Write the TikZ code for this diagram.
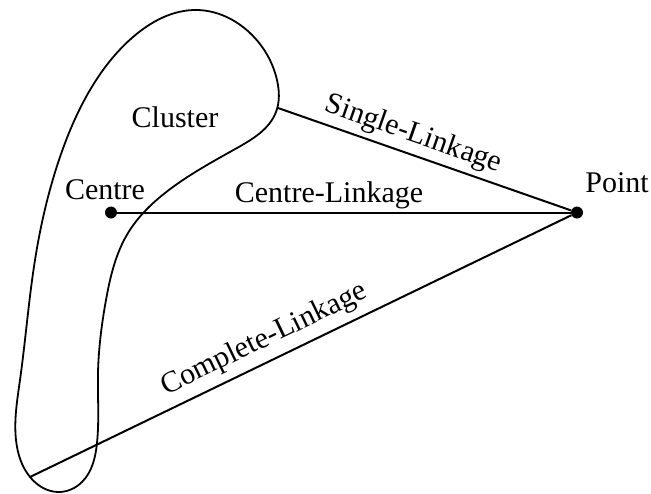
\documentclass[tikz,border=0pt]{standalone}
\usepackage{fontspec}
\setmainfont{Liberation Serif}
\usetikzlibrary{positioning,hobby}
\begin{document}
\begin{tikzpicture}[x=1pt,y=-1pt,
  lbl/.style={font=\fontsize{30}{36}\selectfont, inner sep=2pt},
  dot/.style={circle, fill=black, inner sep=0pt, minimum size=12pt},
  link/.style={line width=2pt},
  outline/.style={line width=1.8pt}]
\useasboundingbox (0,0) rectangle (651,493);

% cluster outline
\draw[outline, use Hobby shortcut, closed=true]
  (197,10) .. (250,33) .. (277,80) .. (276,112) .. (237,148) .. (165,193)
  .. (128,233) .. (106,300) .. (98,373) .. (97,443) .. (82,482) .. (58,492)
  .. (30,477) .. (16,440) .. (20,380) .. (35,260) .. (60,157) .. (90,90)
  .. (133,37);

% points
\node[dot] (centre) at (111,212.5) {};
\node[dot] (point)  at (577,212.5) {};
\coordinate (near) at (278,108);
\coordinate (far) at (30,477);

% linkages
\draw[link] (near) -- (point)
  node[lbl, pos=0.44, sloped, above=3pt] {Single-Linkage};
\draw[link] (centre) -- (point)
  node[lbl, pos=0.467, above=1pt] {Centre-Linkage};
\draw[link] (far) -- (point)
  node[lbl, pos=0.45, sloped, above=5pt] {Complete-Linkage};

% labels
\node[lbl] (clusterlbl) at (175,117) {Cluster};
\node[lbl, above=4pt of centre, xshift=-6pt] (centrelbl) {Centre};
\node[lbl] (pointlbl) at (617,183) {Point};
\end{tikzpicture}
\end{document}
